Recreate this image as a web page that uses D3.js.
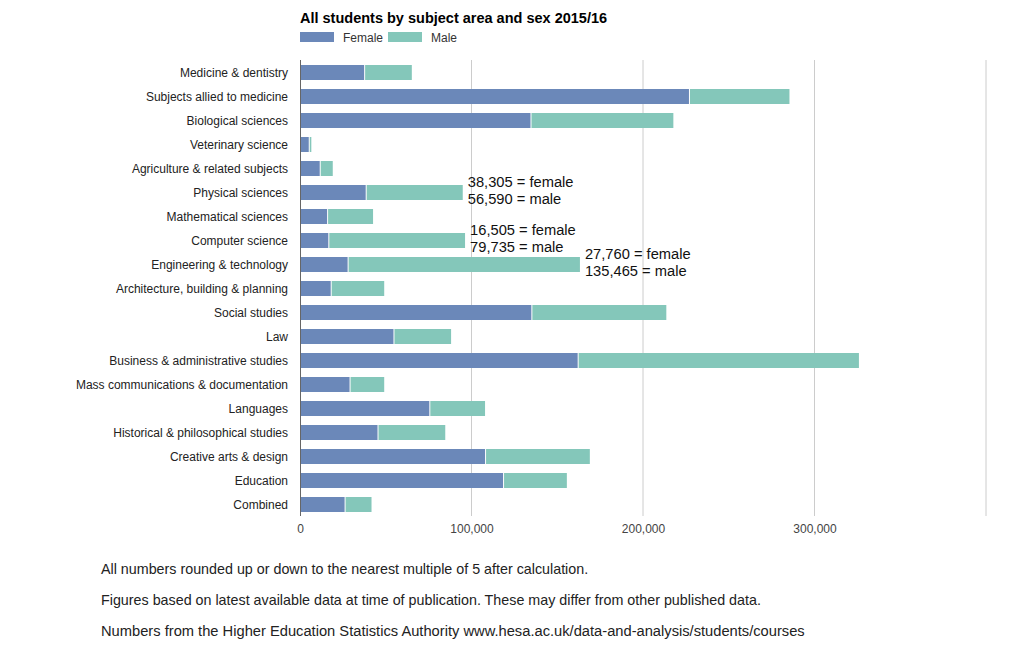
<!DOCTYPE html>
<html>
<head>
<meta charset="utf-8">
<script src="https://cdn.jsdelivr.net/npm/d3@7"></script>
<style>
  body { margin: 0; background: #fff; font-family: "Liberation Sans", Arial, sans-serif; }
  .cat-label { font-size: 12px; fill: #222; }
  .tick text { font-size: 12px; fill: #444; }
  .note { font-size: 14.7px; fill: #111; }
  .foot { font-size: 14.3px; fill: #222; }
  .foot.src { font-size: 14.7px; }
</style>
</head>
<body>
<div id="chart"></div>
<script>
// values (female / male counts)
var subjects = ["Medicine & dentistry", "Subjects allied to medicine", "Biological sciences",
  "Veterinary science", "Agriculture & related subjects", "Physical sciences",
  "Mathematical sciences", "Computer science", "Engineering & technology",
  "Architecture, building & planning", "Social studies", "Law",
  "Business & administrative studies", "Mass communications & documentation", "Languages",
  "Historical & philosophical studies", "Creative arts & design", "Education", "Combined"]
var female = [37400, 226800, 134400, 5100, 11500, 38305, 15800, 16505, 27760, 17900,
  134900, 54500, 161900, 28900, 75400, 45200, 107900, 118400, 26000]
var male = [27800, 58600, 83300, 1500, 7600, 56590, 26800, 79735, 135465, 31200,
  78700, 33600, 164000, 20200, 32500, 39500, 61100, 37200, 15700]
var xticks = [0, 100000, 200000, 300000]
var grid_ticks = [100000, 200000, 300000, 400000]
var notes = [
  {subject: "Physical sciences", lines: ["38,305 = female", "56,590 = male"]},
  {subject: "Computer science", lines: ["16,505 = female", "79,735 = male"]},
  {subject: "Engineering & technology", lines: ["27,760 = female", "135,465 = male"]}
]
var footnotes = [
  "All numbers rounded up or down to the nearest multiple of 5 after calculation.",
  "Figures based on latest available data at time of publication. These may differ from other published data.",
  "Numbers from the Higher Education Statistics Authority www.hesa.ac.uk/data-and-analysis/students/courses"
]

var w = 1019, h = 652
var left_margin = 300, plot_right = 986
var plot_top = 60, plot_bottom = 516
var female_col = "#6b88b9", male_col = "#84c7ba"

var svg = d3.select("#chart").append("svg")
  .attr("width", w)
  .attr("height", h)

var x = d3.scaleLinear().domain([0, 400000]).range([left_margin, plot_right])
// 24px step, 15px bars, first bar 5px below the grid top
var y = d3.scaleBand().domain(subjects).range([plot_top + 5, plot_top + 5 + 18*24 + 15]).paddingInner(0.375).paddingOuter(0)

// title + legend
svg.append("text")
  .attr("x", 300).attr("y", 23)
  .style("font-size", "14.5px").style("font-weight", "bold").style("fill", "#000")
  .text("All students by subject area and sex 2015/16")

var legend = svg.append("g").attr("transform", "translate(300,32)")
var leg = [{name: "Female", col: female_col, x: 0}, {name: "Male", col: male_col, x: 88}]
leg.forEach(function(d){
  legend.append("rect").attr("x", d.x).attr("y", 0).attr("width", 34).attr("height", 10).attr("fill", d.col)
  legend.append("text").attr("x", d.x + 43).attr("y", 10)
    .style("font-size", "12px").style("fill", "#333").text(d.name)
})

// gridlines
svg.append("g").selectAll("line")
  .data(grid_ticks)
  .enter().append("line")
  .attr("x1", function(d){ return x(d) }).attr("x2", function(d){ return x(d) })
  .attr("y1", plot_top).attr("y2", plot_bottom)
  .attr("stroke", "#ccc").attr("stroke-width", 1)

// bars
var rows = svg.append("g").selectAll("g")
  .data(subjects)
  .enter().append("g")

rows.append("rect")
  .attr("x", x(0))
  .attr("y", function(d){ return y(d) })
  .attr("width", function(d, i){ return x(female[i]) - x(0) })
  .attr("height", y.bandwidth())
  .attr("fill", female_col)

rows.append("rect")
  .attr("x", function(d, i){ return x(female[i]) + 1 })
  .attr("y", function(d){ return y(d) })
  .attr("width", function(d, i){ return Math.max(0, x(female[i] + male[i]) - x(female[i]) - 1) })
  .attr("height", y.bandwidth())
  .attr("fill", male_col)

// category labels
svg.append("g").selectAll("text")
  .data(subjects)
  .enter().append("text")
  .attr("class", "cat-label")
  .attr("x", 288)
  .attr("y", function(d){ return y(d) + y.bandwidth()/2 + 4 })
  .attr("text-anchor", "end")
  .text(function(d){ return d })

// axis line
svg.append("line")
  .attr("x1", x(0) + 0.5).attr("x2", x(0) + 0.5)
  .attr("y1", plot_top).attr("y2", plot_bottom)
  .attr("stroke", "#666")

var x_axis = d3.axisBottom(x).tickValues(xticks).tickFormat(d3.format(",")).tickSize(0).tickPadding(8)
svg.append("g")
  .attr("transform", "translate(0," + plot_bottom + ")")
  .call(x_axis)
  .call(function(g){ g.select(".domain").remove() })
  .selectAll("text").style("font-family", "Liberation Sans, Arial, sans-serif")

// annotations
notes.forEach(function(n){
  var i = subjects.indexOf(n.subject)
  var cy = y(n.subject) + y.bandwidth()/2
  var tx = x(female[i] + male[i]) + 5
  n.lines.forEach(function(t, k){
    svg.append("text").attr("class", "note")
      .attr("x", tx).attr("y", cy - 6 + k*17)
      .text(t)
  })
})

// footnotes
svg.append("g").selectAll("text")
  .data(footnotes)
  .enter().append("text")
  .attr("class", function(d, i){ return i == 2 ? "foot src" : "foot" })
  .attr("x", 101)
  .attr("y", function(d, i){ return 574 + i*31 })
  .text(function(d){ return d })
</script>
</body>
</html>
